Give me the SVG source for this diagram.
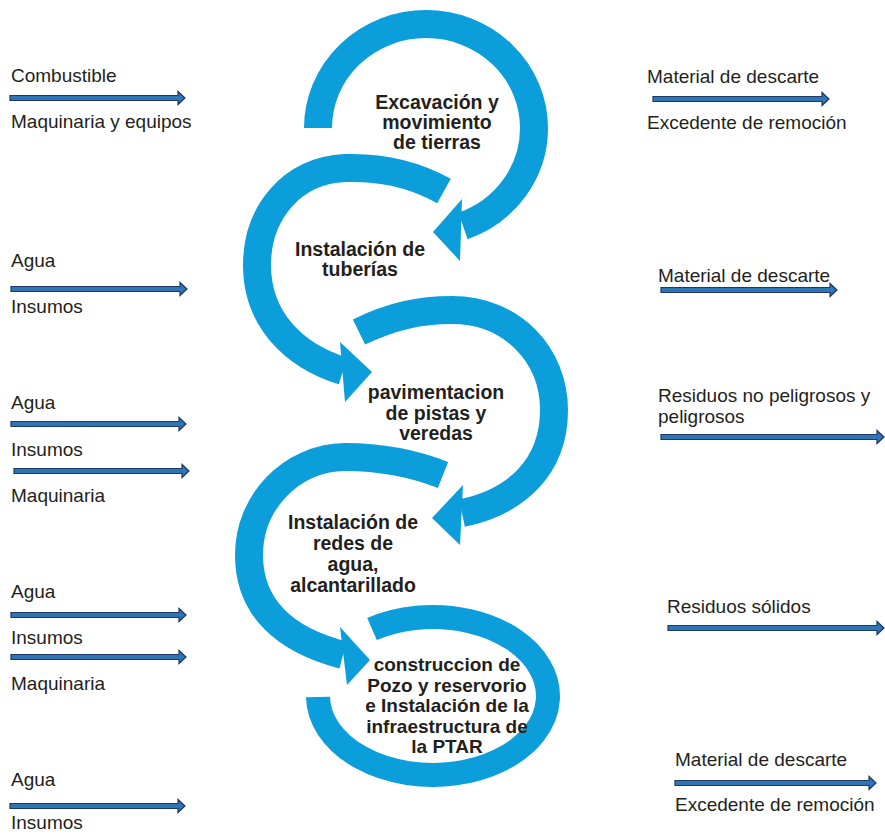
<svg xmlns="http://www.w3.org/2000/svg" width="885" height="834" viewBox="0 0 885 834">
<style>
.band{fill:none;stroke:#0B9EDA;stroke-width:28;stroke-linecap:butt}
.head{fill:#0B9EDA}
.nt{font-family:"Liberation Sans",Arial,sans-serif;font-weight:bold;font-size:19.5px;fill:#231F20;text-anchor:middle}
.lb{font-family:"Liberation Sans",Arial,sans-serif;font-size:19px;fill:#231F20}
.sa{fill:#2E75B6;stroke:#1F3864;stroke-width:1.2;stroke-linejoin:miter}
</style>
<rect width="885" height="834" fill="#FFFFFF"/>

<g id="node-excavacion">
<path class="band" d="M318,128 A108,104 0 0 1 534,128 A108,104 0 0 1 463,226"/>
<polygon class="head" points="462,199 433,232 460,261"/>
<text class="nt" x="437" y="109">Excavación y</text>
<text class="nt" x="437" y="129">movimiento</text>
<text class="nt" x="437" y="149">de tierras</text>
</g>

<g id="node-tuberias">
<path class="band" d="M444,191 C410,172 378,167 345,168 C292,170 257,213 257,265 C257,318 292,355 343,371"/>
<polygon class="head" points="340,342 372,372 345,402"/>
<text class="nt" x="360" y="256">Instalación de</text>
<text class="nt" x="360" y="276">tuberías</text>
</g>

<g id="node-pavimentacion">
<path class="band" d="M359,332 C392,316 420,310 452,310 C512,310 554,355 554,410 C554,468 515,502 462,513"/>
<polygon class="head" points="463,485 432,518 460,545"/>
<text class="nt" x="436" y="399">pavimentacion</text>
<text class="nt" x="436" y="420">de pistas y</text>
<text class="nt" x="436" y="440">veredas</text>
</g>

<g id="node-redes">
<path class="band" d="M443,475 C410,462 378,457 345,457 C290,458 249,503 249,555 C249,608 285,640 343,655"/>
<polygon class="head" points="340,627 370,660 347,685"/>
<text class="nt" x="353" y="529">Instalación de</text>
<text class="nt" x="353" y="550">redes de</text>
<text class="nt" x="353" y="571">agua,</text>
<text class="nt" x="353" y="592">alcantarillado</text>
</g>

<g id="node-ptar">
<path class="band" style="stroke-width:24" d="M372,629 A115,79 0 1 1 318,697"/>
<text class="nt" style="font-size:19px" x="447" y="671">construccion de</text>
<text class="nt" style="font-size:19px" x="447" y="692">Pozo y reservorio</text>
<text class="nt" style="font-size:19px" x="447" y="712">e Instalación de la</text>
<text class="nt" style="font-size:19px" x="447" y="733">infraestructura de</text>
<text class="nt" style="font-size:19px" x="447" y="753">la PTAR</text>
</g>

<g id="inputs">
<text class="lb" x="11" y="82">Combustible</text>
<text class="lb" x="11" y="128">Maquinaria y equipos</text>
<text class="lb" x="11" y="267">Agua</text>
<text class="lb" x="11" y="313">Insumos</text>
<text class="lb" x="11" y="409">Agua</text>
<text class="lb" x="11" y="456">Insumos</text>
<text class="lb" x="11" y="502">Maquinaria</text>
<text class="lb" x="11" y="598">Agua</text>
<text class="lb" x="11" y="644">Insumos</text>
<text class="lb" x="11" y="690">Maquinaria</text>
<text class="lb" x="11" y="786">Agua</text>
<text class="lb" x="11" y="829">Insumos</text>
</g>

<g id="outputs">
<text class="lb" x="647" y="83">Material de descarte</text>
<text class="lb" x="647" y="129">Excedente de remoción</text>
<text class="lb" x="658" y="282">Material de descarte</text>
<text class="lb" x="658" y="402">Residuos no peligrosos y</text>
<text class="lb" x="658" y="423">peligrosos</text>
<text class="lb" x="667" y="613">Residuos sólidos</text>
<text class="lb" x="675" y="766">Material de descarte</text>
<text class="lb" x="675" y="811">Excedente de remoción</text>
</g>

<g id="connectors">
<path class="sa" d="M10,95.5H178V91.5L185,98L178,104.5V100.5H10Z"/>
<path class="sa" d="M11,286.5H180V282.5L187,289L180,295.5V291.5H11Z"/>
<path class="sa" d="M11,421.5H179V417.5L186,424L179,430.5V426.5H11Z"/>
<path class="sa" d="M14,468.5H182V464.5L189,471L182,477.5V473.5H14Z"/>
<path class="sa" d="M11,612.5H179V608.5L186,615L179,621.5V617.5H11Z"/>
<path class="sa" d="M11,654.5H179V650.5L186,657L179,663.5V659.5H11Z"/>
<path class="sa" d="M10,803.5H178V799.5L185,806L178,812.5V808.5H10Z"/>
<path class="sa" d="M653,96.5H822V92.5L829,99L822,105.5V101.5H653Z"/>
<path class="sa" d="M661,287.5H830V283.5L837,290L830,296.5V292.5H661Z"/>
<path class="sa" d="M661,434.5H877V430.5L884,437L877,443.5V439.5H661Z"/>
<path class="sa" d="M668,625.5H877V621.5L884,628L877,634.5V630.5H668Z"/>
<path class="sa" d="M675,780.5H869V776.5L876,783L869,789.5V785.5H675Z"/>
</g>
</svg>
